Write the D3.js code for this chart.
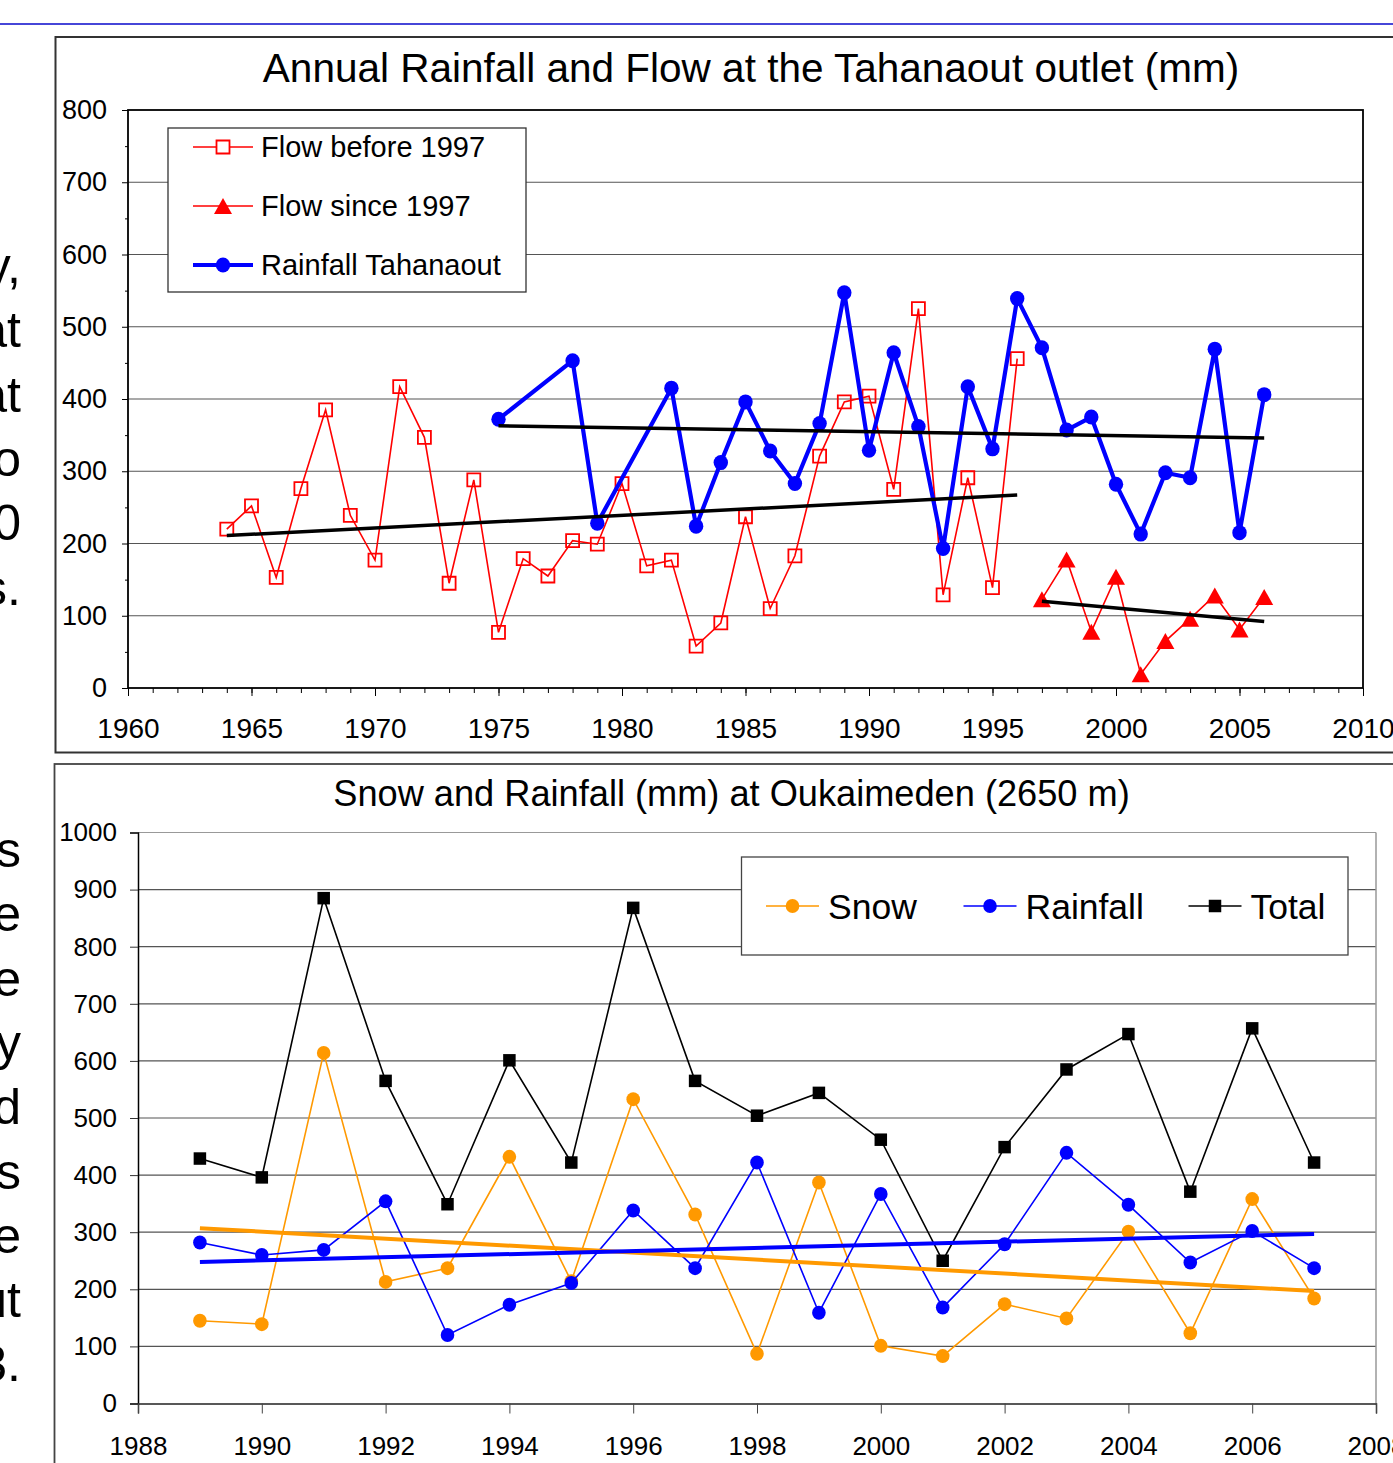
<!DOCTYPE html>
<html>
<head>
<meta charset="utf-8">
<script src="https://cdn.jsdelivr.net/npm/d3@7"></script>
<style>
  html, body { margin: 0; padding: 0; background: #fff; }
  svg { display: block; font-family: "Liberation Sans", Arial, sans-serif; }
</style>
</head>
<body>
<script>
// ---------- Tahanaout: annual flow and rainfall (mm) ----------
const flowBeforeYears = [1964, 1965, 1966, 1967, 1968, 1969, 1970, 1971, 1972, 1973, 1974,
  1975, 1976, 1977, 1978, 1979, 1980, 1981, 1982, 1983, 1984, 1985, 1986, 1987, 1988,
  1989, 1990, 1991, 1992, 1993, 1994, 1995, 1996];
const flowBefore = [220, 252, 153, 276, 385, 239, 177, 417, 347, 145, 288,
  77, 179, 155, 204, 199, 283, 169, 177, 58, 90, 237, 110, 183, 321,
  396, 404, 275, 525, 129, 291, 139, 456];

const flowSinceYears = [1997, 1998, 1999, 2000, 2001, 2002, 2003, 2004, 2005, 2006];
const flowSince = [123, 178, 78, 154, 19, 65, 96, 128, 81, 126];

const rainTahYears = [1975, 1978, 1979, 1982, 1983, 1984, 1985, 1986, 1987, 1988, 1989,
  1990, 1991, 1992, 1993, 1994, 1995, 1996, 1997, 1998, 1999, 2000, 2001, 2002, 2003,
  2004, 2005, 2006];
const rainTah = [372, 453, 228, 415, 224, 312, 396, 328, 283, 366, 547,
  329, 464, 362, 193, 417, 331, 539, 471, 357, 375, 282, 213, 298, 291,
  469, 215, 406];

// linear trend end points [year, mm]
const flowBeforeTrend = [[1964, 211], [1996, 267]];
const rainTahTrend = [[1975, 363], [2006, 346]];
const flowSinceTrend = [[1997, 120], [2006, 92]];

const topYTicks = [0, 100, 200, 300, 400, 500, 600, 700, 800];
const topXTicks = [1960, 1965, 1970, 1975, 1980, 1985, 1990, 1995, 2000, 2005, 2010];

// ---------- Oukaimeden: snow, rainfall, total (mm) ----------
const oukYears = [1989, 1990, 1991, 1992, 1993, 1994, 1995, 1996, 1997, 1998,
  1999, 2000, 2001, 2002, 2003, 2004, 2005, 2006, 2007];
const snow = [145, 139, 614, 213, 237, 432, 214, 533, 331, 87,
  387, 101, 83, 174, 149, 301, 123, 358, 184];
const rainfall = [282, 260, 269, 354, 120, 173, 211, 338, 237, 422,
  159, 367, 168, 279, 439, 348, 247, 302, 237];
const total = [429, 396, 885, 565, 349, 601, 422, 868, 565, 504,
  544, 462, 250, 449, 585, 647, 371, 657, 422];

const snowTrend = [[1989, 307], [2007, 197]];
const rainfallTrend = [[1989, 248], [2007, 297]];

const botYTicks = [0, 100, 200, 300, 400, 500, 600, 700, 800, 900, 1000];
const botXTicks = [1988, 1990, 1992, 1994, 1996, 1998, 2000, 2002, 2004, 2006, 2008];

// side text lines (right-aligned, clipped by the page edge)
const sideTextTop = ["y,", "at", "at", "o", "0", "s."];
const sideTextBottom = ["s", "e", "e", "y", "d", "s", "e", "ut", "3."];

const W = 1393, H = 1463;
const svg = d3.select("body").append("svg").attr("width", W).attr("height", H);
svg.append("rect").attr("width", W).attr("height", H).attr("fill", "#fff");

// slide rule line and side text
svg.append("line").attr("x1", 0).attr("x2", W).attr("y1", 24).attr("y2", 24)
  .attr("stroke", "#4646d8").attr("stroke-width", 2);
sideTextTop.forEach((t, i) => {
  svg.append("text").attr("x", 21).attr("y", 283 + i * 64.3).attr("text-anchor", "end")
    .attr("font-size", 50).attr("fill", "#000").text(t);
});
sideTextBottom.forEach((t, i) => {
  svg.append("text").attr("x", 21).attr("y", 867 + i * 64.3).attr("text-anchor", "end")
    .attr("font-size", 50).attr("fill", "#000").text(t);
});

const squarePath = s => `M${-s/2},${-s/2}H${s/2}V${s/2}H${-s/2}Z`;
const trianglePath = "M0,-8L9,8L-9,8Z";

// =================== TOP CHART ===================
{
  const g = svg.append("g");
  g.append("rect").attr("x", 55.5).attr("y", 37).attr("width", 1400).attr("height", 715.5)
    .attr("fill", "#fff").attr("stroke", "#333").attr("stroke-width", 2);

  g.append("text").attr("x", 751).attr("y", 82).attr("text-anchor", "middle")
    .attr("font-size", 40.5).text("Annual Rainfall and Flow at the Tahanaout outlet (mm)");

  const x = d3.scaleLinear().domain([1960, 2010]).range([128, 1363]);
  const y = d3.scaleLinear().domain([0, 800]).range([688, 110]);

  // gridlines
  g.append("g").selectAll("line").data(topYTicks.filter(v => v > 0 && v < 800)).join("line")
    .attr("x1", x(1960)).attr("x2", x(2010)).attr("y1", d => y(d)).attr("y2", d => y(d))
    .attr("stroke", "#555").attr("stroke-width", 1.2);

  // minor ticks
  g.append("g").attr("transform", `translate(${x(1960)},0)`)
    .call(d3.axisLeft(y).tickValues(d3.range(50, 800, 100)).tickSize(3).tickFormat(""))
    .call(a => a.select(".domain").remove())
    .call(a => a.selectAll("line").attr("stroke", "#000"));
  g.append("g").attr("transform", `translate(0,${y(0)})`)
    .call(d3.axisBottom(x).tickValues(d3.range(1960, 2011, 1)).tickSize(5).tickFormat(""))
    .call(a => a.select(".domain").remove())
    .call(a => a.selectAll("line").attr("stroke", "#000"));

  // major axes
  g.append("g").attr("transform", `translate(${x(1960)},0)`)
    .call(d3.axisLeft(y).tickValues(topYTicks).tickSize(6).tickPadding(15).tickFormat(d3.format("d")))
    .call(a => a.select(".domain").remove())
    .call(a => a.selectAll("line").attr("stroke", "#000"))
    .call(a => a.selectAll("text").attr("font-size", 27).attr("fill", "#000")
      .attr("font-family", "Liberation Sans, Arial, sans-serif"));
  g.append("g").attr("transform", `translate(0,${y(0)})`)
    .call(d3.axisBottom(x).tickValues(topXTicks).tickSize(8).tickPadding(22).tickFormat(d3.format("d")))
    .call(a => a.select(".domain").remove())
    .call(a => a.selectAll("line").attr("stroke", "#000"))
    .call(a => a.selectAll("text").attr("font-size", 28).attr("fill", "#000")
      .attr("font-family", "Liberation Sans, Arial, sans-serif"));

  // plot frame
  g.append("rect").attr("x", x(1960)).attr("y", y(800))
    .attr("width", x(2010) - x(1960)).attr("height", y(0) - y(800))
    .attr("fill", "none").attr("stroke", "#000").attr("stroke-width", 1.8);

  const line = d3.line().x(d => x(d[0])).y(d => y(d[1]));

  // flow before 1997
  const fb = flowBeforeYears.map((yr, i) => [yr, flowBefore[i]]);
  g.append("path").datum(fb).attr("d", line).attr("fill", "none")
    .attr("stroke", "#ff0000").attr("stroke-width", 1.6);
  g.append("g").selectAll("path").data(fb).join("path")
    .attr("transform", d => `translate(${x(d[0])},${y(d[1])})`)
    .attr("d", squarePath(13)).attr("fill", "none").attr("stroke", "#ff0000").attr("stroke-width", 1.8);

  // flow since 1997
  const fs = flowSinceYears.map((yr, i) => [yr, flowSince[i]]);
  g.append("path").datum(fs).attr("d", line).attr("fill", "none")
    .attr("stroke", "#ff0000").attr("stroke-width", 1.6);
  g.append("g").selectAll("path").data(fs).join("path")
    .attr("transform", d => `translate(${x(d[0])},${y(d[1])})`)
    .attr("d", trianglePath).attr("fill", "#ff0000");

  // rainfall Tahanaout
  const rt = rainTahYears.map((yr, i) => [yr, rainTah[i]]);
  g.append("path").datum(rt).attr("d", line).attr("fill", "none")
    .attr("stroke", "#0000ff").attr("stroke-width", 4.2).attr("stroke-linejoin", "round");
  g.append("g").selectAll("ellipse").data(rt).join("ellipse")
    .attr("cx", d => x(d[0])).attr("cy", d => y(d[1])).attr("rx", 7.2).attr("ry", 7.5)
    .attr("fill", "#0000ff");

  // trend lines
  [flowBeforeTrend, rainTahTrend, flowSinceTrend].forEach(t => {
    g.append("path").datum(t).attr("d", line).attr("fill", "none")
      .attr("stroke", "#000").attr("stroke-width", 3.5);
  });

  // legend
  const lg = g.append("g");
  lg.append("rect").attr("x", 168).attr("y", 128).attr("width", 358).attr("height", 164)
    .attr("fill", "#fff").attr("stroke", "#333").attr("stroke-width", 1.3);
  const items = [
    { label: "Flow before 1997", y: 147, w: 1.6, m: "sq" },
    { label: "Flow since 1997", y: 206, w: 1.6, m: "tri" },
    { label: "Rainfall Tahanaout", y: 265, w: 4.2, m: "dot" }
  ];
  items.forEach(it => {
    const col = it.m === "dot" ? "#0000ff" : "#ff0000";
    lg.append("line").attr("x1", 193).attr("x2", 253).attr("y1", it.y).attr("y2", it.y)
      .attr("stroke", col).attr("stroke-width", it.w);
    if (it.m === "sq") {
      lg.append("path").attr("transform", `translate(223,${it.y})`).attr("d", squarePath(13))
        .attr("fill", "#fff").attr("stroke", col).attr("stroke-width", 1.8);
    } else if (it.m === "tri") {
      lg.append("path").attr("transform", `translate(223,${it.y})`).attr("d", trianglePath).attr("fill", col);
    } else {
      lg.append("ellipse").attr("cx", 223).attr("cy", it.y).attr("rx", 7.2).attr("ry", 7.5).attr("fill", col);
    }
    lg.append("text").attr("x", 261).attr("y", it.y + 10).attr("font-size", 29).text(it.label);
  });
}

// =================== BOTTOM CHART ===================
{
  const g = svg.append("g");
  g.append("rect").attr("x", 54.5).attr("y", 764).attr("width", 1400).attr("height", 800)
    .attr("fill", "#fff").attr("stroke", "#444").attr("stroke-width", 1.8);

  g.append("text").attr("x", 731.5).attr("y", 806).attr("text-anchor", "middle")
    .attr("font-size", 36.2).text("Snow and Rainfall (mm) at Oukaimeden (2650 m)");

  const x = d3.scaleLinear().domain([1988, 2008]).range([138, 1376]);
  const y = d3.scaleLinear().domain([0, 1000]).range([1403.5, 832.5]);

  // gridlines
  g.append("g").selectAll("line").data(botYTicks.filter(v => v > 0)).join("line")
    .attr("x1", x(1988)).attr("x2", x(2008)).attr("y1", d => y(d)).attr("y2", d => y(d))
    .attr("stroke", d => d === 1000 ? "#999" : "#555").attr("stroke-width", 1.2);
  // right frame edge
  g.append("line").attr("x1", x(2008)).attr("x2", x(2008)).attr("y1", y(1000)).attr("y2", y(0))
    .attr("stroke", "#999").attr("stroke-width", 1.5);

  g.append("g").attr("transform", `translate(${x(1988)},0)`)
    .call(d3.axisLeft(y).tickValues(botYTicks).tickSize(8).tickPadding(13).tickFormat(d3.format("d")))
    .call(a => a.select(".domain").attr("stroke", "#000").attr("stroke-width", 1.5))
    .call(a => a.selectAll("line").attr("stroke", "#333"))
    .call(a => a.selectAll("text").attr("font-size", 26).attr("fill", "#000")
      .attr("font-family", "Liberation Sans, Arial, sans-serif"));
  g.append("g").attr("transform", `translate(0,${y(0)})`)
    .call(d3.axisBottom(x).tickValues(botXTicks).tickSize(10).tickPadding(23).tickFormat(d3.format("d")))
    .call(a => a.select(".domain").attr("stroke", "#222").attr("stroke-width", 1.5))
    .call(a => a.selectAll("line").attr("stroke", "#444"))
    .call(a => a.selectAll("text").attr("font-size", 26).attr("fill", "#000")
      .attr("font-family", "Liberation Sans, Arial, sans-serif"));

  const line = d3.line().x(d => x(d[0])).y(d => y(d[1]));
  const series = [
    { vals: snow, color: "#ff9900", m: "dot" },
    { vals: rainfall, color: "#0000ff", m: "dot" },
    { vals: total, color: "#000000", m: "sq" }
  ];
  series.forEach(s => {
    const pts = oukYears.map((yr, i) => [yr, s.vals[i]]);
    g.append("path").datum(pts).attr("d", line).attr("fill", "none")
      .attr("stroke", s.color).attr("stroke-width", 1.6);
    if (s.m === "dot") {
      g.append("g").selectAll("ellipse").data(pts).join("ellipse")
        .attr("cx", d => x(d[0])).attr("cy", d => y(d[1])).attr("rx", 6.8).attr("ry", 7)
        .attr("fill", s.color);
    } else {
      g.append("g").selectAll("path").data(pts).join("path")
        .attr("transform", d => `translate(${x(d[0])},${y(d[1])})`)
        .attr("d", squarePath(12.5)).attr("fill", s.color);
    }
  });

  // trend lines
  g.append("path").datum(snowTrend).attr("d", line).attr("fill", "none")
    .attr("stroke", "#ff9900").attr("stroke-width", 4);
  g.append("path").datum(rainfallTrend).attr("d", line).attr("fill", "none")
    .attr("stroke", "#0000ff").attr("stroke-width", 4);

  // legend
  const lg = g.append("g");
  lg.append("rect").attr("x", 741.5).attr("y", 857).attr("width", 606.5).attr("height", 98)
    .attr("fill", "#fff").attr("stroke", "#444").attr("stroke-width", 1.3);
  const items = [
    { label: "Snow", x0: 766, color: "#ff9900", m: "dot" },
    { label: "Rainfall", x0: 963.5, color: "#0000ff", m: "dot" },
    { label: "Total", x0: 1188.5, color: "#000000", m: "sq" }
  ];
  const ly = 906;
  items.forEach(it => {
    lg.append("line").attr("x1", it.x0).attr("x2", it.x0 + 53).attr("y1", ly).attr("y2", ly)
      .attr("stroke", it.color).attr("stroke-width", 1.6);
    if (it.m === "dot") {
      lg.append("ellipse").attr("cx", it.x0 + 26.5).attr("cy", ly).attr("rx", 6.8).attr("ry", 7).attr("fill", it.color);
    } else {
      lg.append("path").attr("transform", `translate(${it.x0 + 26.5},${ly})`).attr("d", squarePath(12.5)).attr("fill", it.color);
    }
    lg.append("text").attr("x", it.x0 + 62).attr("y", ly + 12.5).attr("font-size", 35.5).text(it.label);
  });
}
</script>
</body>
</html>
